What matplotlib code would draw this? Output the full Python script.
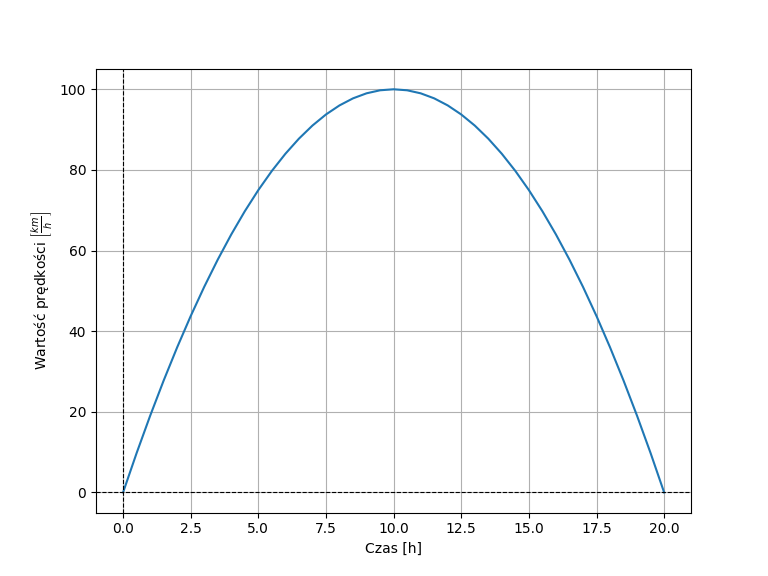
import matplotlib.pyplot as plt

# time [h] and speed [km/h]
czas = [0.0, 0.5, 1.0, 1.5, 2.0, 2.5, 3.0, 3.5, 4.0, 4.5, 5.0, 5.5, 6.0, 6.5, 7.0,
        7.5, 8.0, 8.5, 9.0, 9.5, 10.0, 10.5, 11.0, 11.5, 12.0, 12.5, 13.0, 13.5,
        14.0, 14.5, 15.0, 15.5, 16.0, 16.5, 17.0, 17.5, 18.0, 18.5, 19.0, 19.5, 20.0]
predkosc = [0.0, 9.75, 19.0, 27.75, 36.0, 43.75, 51.0, 57.75, 64.0, 69.75, 75.0,
            79.75, 84.0, 87.75, 91.0, 93.75, 96.0, 97.75, 99.0, 99.75, 100.0,
            99.75, 99.0, 97.75, 96.0, 93.75, 91.0, 87.75, 84.0, 79.75, 75.0,
            69.75, 64.0, 57.75, 51.0, 43.75, 36.0, 27.75, 19.0, 9.75, 0.0]

fig = plt.figure(figsize=(7.68, 5.76), dpi=100)
plt.plot(czas, predkosc)
plt.axhline(0, color='black', linestyle='--', linewidth=0.8)
plt.axvline(0, color='black', linestyle='--', linewidth=0.8)
plt.grid(True)
plt.xlabel("Czas [h]")
plt.ylabel(r"Wartość prędkości $\left[\frac{km}{h}\right]$")
plt.savefig("out.png", dpi=100)
